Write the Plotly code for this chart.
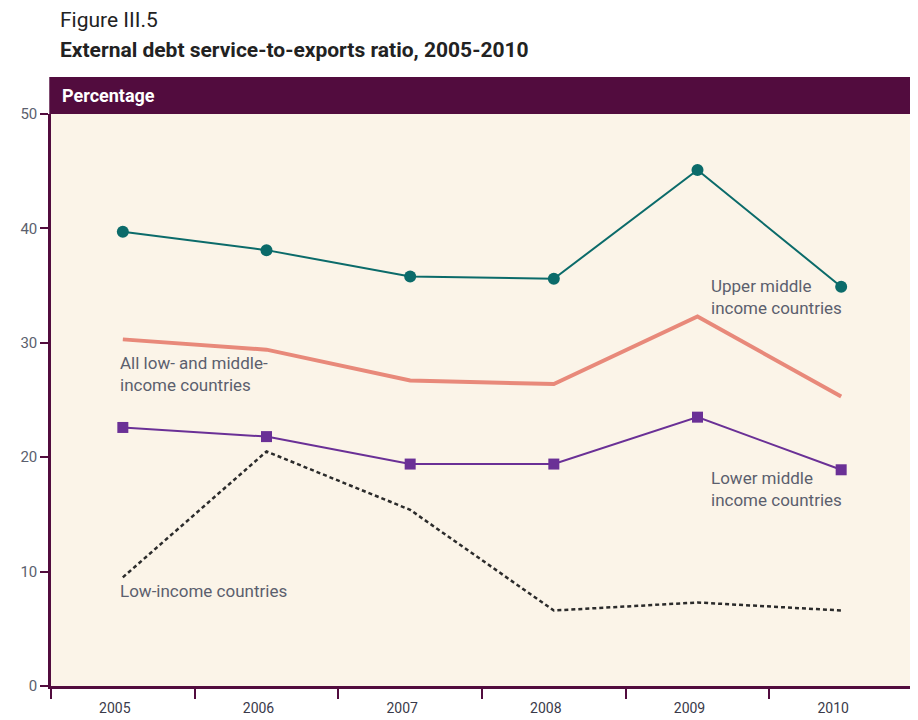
import plotly.graph_objects as go

years = ["2005", "2006", "2007", "2008", "2009", "2010"]
upper_middle = [39.7, 38.1, 35.8, 35.6, 45.1, 34.9]
all_low_middle = [30.3, 29.4, 26.7, 26.4, 32.3, 25.3]
lower_middle = [22.6, 21.8, 19.4, 19.4, 23.5, 18.9]
low_income = [9.5, 20.5, 15.4, 6.6, 7.3, 6.6]
y_ticks = [0, 10, 20, 30, 40, 50]

MAROON = "#520c3e"
BG = "#fbf4e8"
TEXT = "#5b5f6e"
FONT = "Roboto"

fig = go.Figure()
fig.add_trace(go.Scatter(x=years, y=low_income, mode="lines",
                         line=dict(color="#2b2b2b", width=2.5, dash="4px,3px"),
                         name="Low-income countries"))
fig.add_trace(go.Scatter(x=years, y=all_low_middle, mode="lines",
                         line=dict(color="#e8897a", width=4),
                         name="All low- and middle-income countries"))
fig.add_trace(go.Scatter(x=years, y=lower_middle, mode="lines+markers",
                         line=dict(color="#6a3096", width=2),
                         marker=dict(symbol="square", size=11, color="#6a3096"),
                         name="Lower middle income countries"))
fig.add_trace(go.Scatter(x=years, y=upper_middle, mode="lines+markers",
                         line=dict(color="#0b6b6a", width=2),
                         marker=dict(symbol="circle", size=12, color="#0b6b6a"),
                         name="Upper middle income countries"))

# page body has an 8px margin, so the figure is 910x712 placed at (8, 8)
fig.update_layout(
    width=910, height=712,
    margin=dict(l=43, r=5, t=106, b=34),
    paper_bgcolor="white",
    plot_bgcolor=BG,
    showlegend=False,
    font=dict(family=FONT, color=TEXT, size=14),
    xaxis=dict(type="category", range=[-0.5, 5.5], tickson="boundaries",
               ticks="outside", ticklen=10, tickwidth=2, tickcolor=MAROON,
               showline=True, linecolor=MAROON, linewidth=2.5,
               showgrid=False, zeroline=False, automargin=False,
               ticklabelstandoff=7, ticklabelshift=-8,
               tickfont=dict(size=14, color="#3a3a4a", family=FONT)),
    yaxis=dict(range=[0, 50], tickvals=y_ticks, ticks="outside", ticklen=8,
               tickwidth=2, tickcolor=MAROON, showline=True, linecolor=MAROON,
               linewidth=2.5, showgrid=False, zeroline=False, automargin=False,
               tickfont=dict(size=15, color=TEXT, family=FONT)),
)

# header bar
fig.add_shape(type="rect", xref="paper", yref="paper",
              x0=-0.002, x1=1.0, y0=1.0, y1=1.0 + 37 / 572,
              fillcolor=MAROON, line=dict(width=0), layer="above")
# right border
fig.add_shape(type="line", xref="paper", yref="paper", x0=1, x1=1, y0=0, y1=1,
              line=dict(color="#9a9a9a", width=1))

fig.add_annotation(xref="paper", yref="paper", x=(60 - 51) / 862, y=1.0 + 19 / 572,
                   text="<b>Percentage</b>", showarrow=False, xanchor="left",
                   yanchor="middle", font=dict(color="white", size=18, family=FONT))

fig.add_annotation(xref="paper", yref="paper", x=(58 - 51) / 862, y=1.0 + (114 - 20) / 572,
                   text="Figure III.5", showarrow=False, xanchor="left", yanchor="middle",
                   font=dict(color="#222222", size=21, family=FONT))
fig.add_annotation(xref="paper", yref="paper", x=(58 - 51) / 862, y=1.0 + (114 - 50) / 572,
                   text="<b>External debt service-to-exports ratio, 2005-2010</b>",
                   showarrow=False, xanchor="left", yanchor="middle",
                   font=dict(color="#222222", size=21, family=FONT))

label_font = dict(color=TEXT, size=17, family=FONT)
fig.add_annotation(x=4, y=34.0, text="Upper middle<br>income countries",
                   showarrow=False, xanchor="left", yanchor="middle", xshift=11,
                   align="left", font=label_font)
fig.add_annotation(x=0, y=27.3, text="All low- and middle-<br>income countries",
                   showarrow=False, xanchor="left", yanchor="middle", xshift=-5,
                   align="left", font=label_font)
fig.add_annotation(x=4, y=17.2, text="Lower middle<br>income countries",
                   showarrow=False, xanchor="left", yanchor="middle", xshift=11,
                   align="left", font=label_font)
fig.add_annotation(x=0, y=8.3, text="Low-income countries",
                   showarrow=False, xanchor="left", yanchor="middle", xshift=-5,
                   align="left", font=label_font)

fig.write_html("out.html")
